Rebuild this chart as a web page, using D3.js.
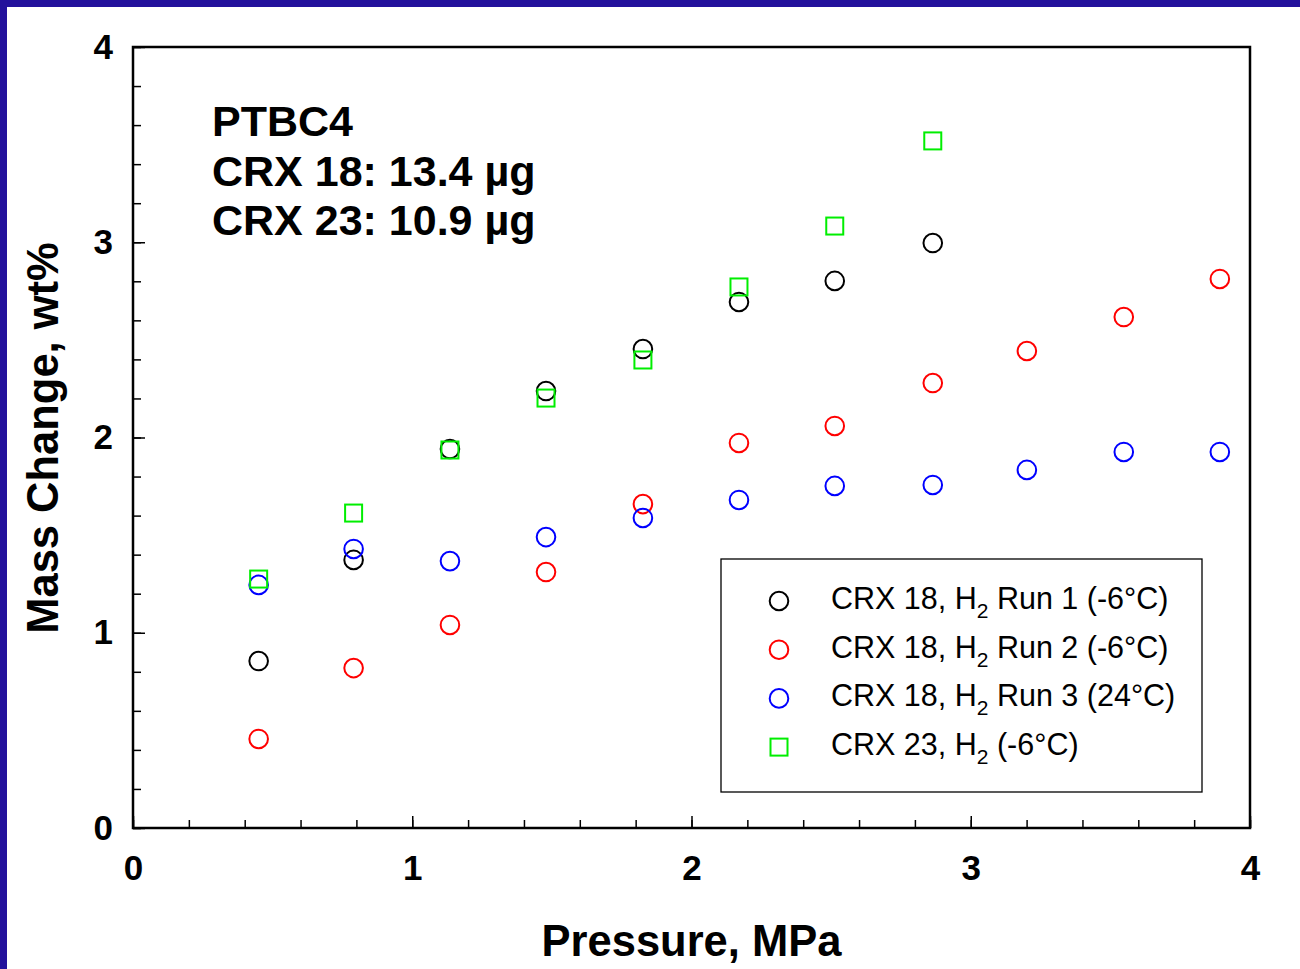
<!DOCTYPE html>
<html>
<head>
<meta charset="utf-8">
<script src="https://cdn.jsdelivr.net/npm/d3@7"></script>
<style>
  html, body { margin: 0; padding: 0; background: #fff; }
  svg { display: block; font-family: "Liberation Sans", Arial, sans-serif; }
</style>
</head>
<body>
<div id="chart"></div>
<script>
// pressure values (MPa) shared by all runs
var pressure = [0.45, 0.79, 1.135, 1.479, 1.826, 2.17, 2.513, 2.864, 3.201, 3.548, 3.892];

// mass change, wt%
var run1 = [0.855, 1.373, 1.941, 2.238, 2.453, 2.694, 2.802, 2.996];
var run2 = [0.456, 0.819, 1.040, 1.311, 1.659, 1.972, 2.059, 2.279, 2.443, 2.617, 2.812];
var run3 = [1.245, 1.429, 1.367, 1.490, 1.588, 1.680, 1.752, 1.757, 1.834, 1.926, 1.926];
var crx23 = [1.275, 1.613, 1.936, 2.202, 2.397, 2.771, 3.083, 3.519];

var seriesNames = ["CRX 18, H|2| Run 1 (-6°C)", "CRX 18, H|2| Run 2 (-6°C)",
                   "CRX 18, H|2| Run 3 (24°C)", "CRX 23, H|2| (-6°C)"];
var seriesColors = ["#000000", "#ff0000", "#0000ff", "#00ee00"];
var seriesShapes = ["circle", "circle", "circle", "square"];
var seriesValues = [run1, run2, run3, crx23];

var notes = ["PTBC4", "CRX 18: 13.4 µg", "CRX 23: 10.9 µg"];

var majorTicks = [0, 1, 2, 3, 4];
var minorTicks = d3.range(0, 4.001, 0.2);

var W = 1300, H = 969;
var margin = {top: 47, right: 50, bottom: 141, left: 133};
var width = W - margin.left - margin.right;
var height = H - margin.top - margin.bottom;

var svg = d3.select("#chart").append("svg")
    .attr("width", W)
    .attr("height", H);

// dark blue slide border on top and left
svg.append("rect").attr("x", 0).attr("y", 0).attr("width", W).attr("height", 7).attr("fill", "#23119c");
svg.append("rect").attr("x", 0).attr("y", 0).attr("width", 7).attr("height", H).attr("fill", "#23119c");

var g = svg.append("g")
    .attr("transform", "translate(" + margin.left + "," + margin.top + ")");

var x = d3.scaleLinear().domain([0, 4]).range([0, width]);
var y = d3.scaleLinear().domain([0, 4]).range([height, 0]);

// minor ticks
g.append("g")
    .attr("transform", "translate(0," + height + ")")
    .call(d3.axisBottom(x).tickValues(minorTicks).tickSize(-8).tickFormat(""))
    .call(function(a) { a.select(".domain").remove(); });
g.append("g")
    .call(d3.axisLeft(y).tickValues(minorTicks).tickSize(-8).tickFormat(""))
    .call(function(a) { a.select(".domain").remove(); });

// major ticks with labels
var xAxis = g.append("g")
    .attr("transform", "translate(0," + height + ")")
    .call(d3.axisBottom(x).tickValues(majorTicks).tickSize(-12).tickPadding(27).tickFormat(d3.format("d")));
var yAxis = g.append("g")
    .call(d3.axisLeft(y).tickValues(majorTicks).tickSize(-12).tickPadding(20).tickFormat(d3.format("d")));

[xAxis, yAxis].forEach(function(a) {
  a.select(".domain").remove();
  a.selectAll("text")
      .style("font-family", "'Liberation Sans', Arial, sans-serif")
      .style("font-size", "35px")
      .style("font-weight", "bold")
      .attr("fill", "#000");
});

g.selectAll(".tick line").attr("stroke", "#000").attr("stroke-width", 1.5);

// frame
g.append("rect")
    .attr("width", width)
    .attr("height", height)
    .attr("fill", "none")
    .attr("stroke", "#000")
    .attr("stroke-width", 2.5);

// axis titles
svg.append("text")
    .attr("x", margin.left + width / 2)
    .attr("y", 956)
    .attr("text-anchor", "middle")
    .style("font-size", "43.5px")
    .style("font-weight", "bold")
    .text("Pressure, MPa");

svg.append("text")
    .attr("transform", "translate(58," + 438 + ") rotate(-90)")
    .attr("text-anchor", "middle")
    .style("font-size", "43.5px")
    .style("font-weight", "bold")
    .text("Mass Change, wt%");

// annotation
g.append("g").selectAll("text")
    .data(notes)
    .join("text")
    .attr("x", 79)
    .attr("y", function(d, i) { return 89 + i * 49.5; })
    .style("font-size", "43px")
    .style("font-weight", "bold")
    .text(function(d) { return d; });

function drawMarker(sel, shape, color) {
  if (shape === "square") {
    sel.append("rect")
        .attr("x", -8.5).attr("y", -8.5)
        .attr("width", 17).attr("height", 17)
        .attr("fill", "none")
        .attr("stroke", color)
        .attr("stroke-width", 2);
  } else {
    sel.append("circle")
        .attr("r", 9.3)
        .attr("fill", "none")
        .attr("stroke", color)
        .attr("stroke-width", 2);
  }
}

// points
seriesValues.forEach(function(vals, s) {
  g.append("g").selectAll("g")
      .data(vals)
      .join("g")
      .attr("transform", function(d, i) { return "translate(" + x(pressure[i]) + "," + y(d) + ")"; })
      .each(function() { drawMarker(d3.select(this), seriesShapes[s], seriesColors[s]); });
});

// legend
var legend = svg.append("g").attr("transform", "translate(721,559)");
legend.append("rect")
    .attr("width", 481)
    .attr("height", 233)
    .attr("fill", "#fff")
    .attr("stroke", "#000")
    .attr("stroke-width", 1.3);

seriesNames.forEach(function(name, i) {
  var row = legend.append("g").attr("transform", "translate(0," + (42 + i * 48.7) + ")");
  var m = row.append("g").attr("transform", "translate(58,0)");
  drawMarker(m, seriesShapes[i], seriesColors[i]);
  var parts = name.split("|");
  var t = row.append("text")
      .attr("x", 110)
      .attr("y", 8)
      .style("font-size", "30.5px");
  t.append("tspan").text(parts[0]);
  t.append("tspan").attr("dy", 9).style("font-size", "21px").text(parts[1]);
  t.append("tspan").attr("dy", -9).text(parts[2]);
});
</script>
</body>
</html>
